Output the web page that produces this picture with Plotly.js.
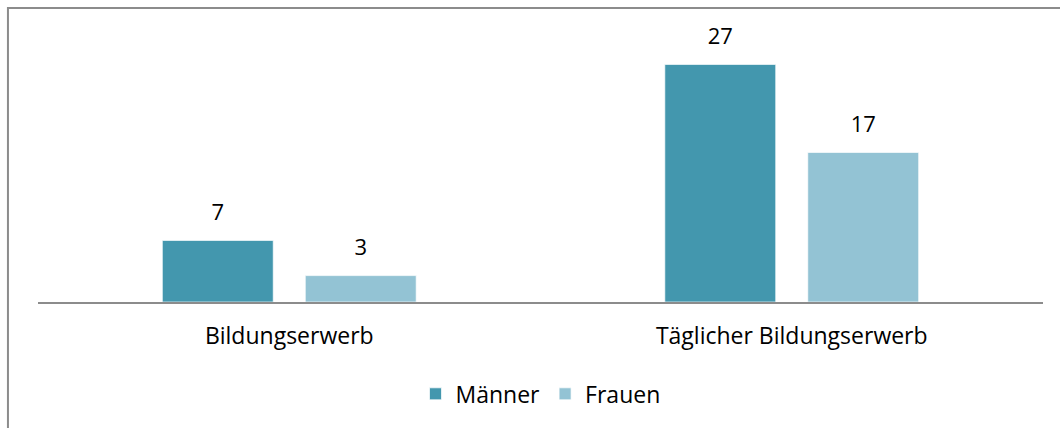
<!DOCTYPE html>
<html>
<head>
<meta charset="utf-8">
<script src="https://cdn.plot.ly/plotly-3.0.1.min.js"></script>
<style>html,body{margin:0;padding:0;background:#fff;}</style>
</head>
<body>
<div id="chart" style="width:1060px;height:428px;"></div>
<script>
const categories = ["Bildungserwerb", "Täglicher Bildungserwerb"];
const seriesNames = ["Männer", "Frauen"];
const maenner = [7, 27];
const frauen = [3, 17];
const colors = ["#4397AE", "#93C3D4"];
const values = [maenner, frauen];

const FONT = "Open Sans, Lato, sans-serif";
const traces = [];
values.forEach((vals, i) => {
  traces.push({
    type: "bar",
    name: seriesNames[i],
    x: categories,
    y: vals,
    offsetgroup: String(i),
    marker: {color: colors[i], line: {color: "rgba(255,255,255,0.7)", width: 1}},
    hoverinfo: "none"
  });
});
values.forEach((vals, i) => {
  traces.push({
    type: "scatter",
    mode: "markers+text",
    x: categories,
    y: vals,
    offsetgroup: String(i),
    text: vals.map(String),
    textposition: "top center",
    textfont: {family: FONT, size: 22, color: "#000"},
    marker: {size: 22, color: "rgba(0,0,0,0)"},
    showlegend: false,
    hoverinfo: "none",
    cliponaxis: false
  });
});

const layout = {
  width: 1060,
  height: 428,
  margin: {l: 38, r: 17, t: 38, b: 126},
  paper_bgcolor: "#fff",
  plot_bgcolor: "#fff",
  font: {family: FONT, size: 22, color: "#000"},
  barmode: "group",
  scattermode: "group",
  bargap: 0.431,
  scattergap: 0.431,
  bargroupgap: 0.224,
  xaxis: {
    type: "category",
    showline: true,
    linecolor: "#8c8c8c",
    linewidth: 2,
    showgrid: false,
    ticks: "",
    ticklabelstandoff: 12,
    tickfont: {family: FONT, size: 23, color: "#000"},
    fixedrange: true
  },
  yaxis: {
    range: [0, 30],
    visible: false,
    showgrid: false,
    zeroline: false,
    fixedrange: true
  },
  showlegend: true,
  legend: {
    orientation: "h",
    x: 0.5, xanchor: "center",
    y: -0.348, yanchor: "middle",
    font: {family: FONT, size: 23, color: "#000"},
    traceorder: "normal"
  },
  shapes: [{
    type: "rect", xref: "paper", yref: "paper",
    x0: -0.0299, x1: 1.03, y0: -0.53, y1: 1.1136,
    line: {color: "#8c8c8c", width: 2},
    fillcolor: "rgba(0,0,0,0)",
    layer: "above"
  }]
};

Plotly.newPlot("chart", traces, layout, {staticPlot: true, displayModeBar: false});
</script>
</body>
</html>
